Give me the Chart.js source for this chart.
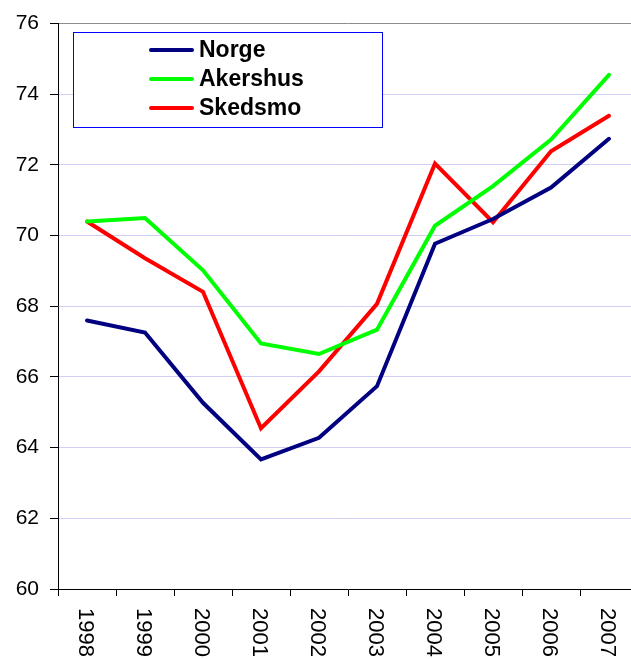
<!DOCTYPE html>
<html>
<head>
<meta charset="utf-8">
<script src="https://cdn.jsdelivr.net/npm/chart.js@4.4.1/dist/chart.umd.min.js"></script>
<style>
html,body{margin:0;padding:0;background:#fff;overflow:hidden;width:631px;height:659px;}
#wrap{position:absolute;left:0;top:0;width:640px;height:680px;}
</style>
</head>
<body>
<div id="wrap"><canvas id="c" width="640" height="680"></canvas></div>
<script>
const years = ["1998","1999","2000","2001","2002","2003","2004","2005","2006","2007"];
const norge = [67.6, 67.26, 65.27, 63.67, 64.28, 65.74, 69.77, 70.47, 71.36, 72.74];
const akershus = [70.4, 70.5, 69.02, 66.95, 66.65, 67.34, 70.28, 71.4, 72.72, 74.55];
const skedsmo = [70.4, 69.36, 68.41, 64.55, 66.16, 68.07, 72.04, 70.38, 72.39, 73.39];
const seriesNames = ["Norge", "Akershus", "Skedsmo"];
const seriesColors = ["#000080", "#00ff00", "#ff0000"];
const yTicks = [60, 62, 64, 66, 68, 70, 72, 74, 76];

const FONT = "'Liberation Sans', Arial, sans-serif";

const xLabelPlugin = {
  id: 'xLabels',
  afterDraw(chart) {
    const ctx = chart.ctx;
    const xs = chart.scales.x;
    const bottom = chart.chartArea.bottom;
    ctx.save();
    ctx.fillStyle = '#000';
    ctx.font = '22px ' + FONT;
    ctx.textAlign = 'left';
    ctx.textBaseline = 'middle';
    years.forEach((y, i) => {
      const px = xs.getPixelForValue(i);
      ctx.save();
      ctx.translate(px - 2, bottom + 19);
      ctx.rotate(Math.PI / 2);
      ctx.fillText(y, 0, 0);
      ctx.restore();
    });
    ctx.restore();
  }
};

const legendPlugin = {
  id: 'boxLegend',
  afterDatasetsDraw(chart) {
    const ctx = chart.ctx;
    ctx.save();
    ctx.fillStyle = '#fff';
    ctx.fillRect(73, 32, 309, 95);
    ctx.strokeStyle = '#0000ff';
    ctx.lineWidth = 1;
    ctx.strokeRect(73.5, 32.5, 309, 95);
    ctx.font = 'bold 23px ' + FONT;
    ctx.textAlign = 'left';
    ctx.textBaseline = 'middle';
    const rows = [50, 79, 108];
    seriesNames.forEach((n, i) => {
      ctx.strokeStyle = seriesColors[i];
      ctx.lineWidth = 4;
      ctx.lineCap = 'round';
      ctx.beginPath();
      ctx.moveTo(151, rows[i]);
      ctx.lineTo(192, rows[i]);
      ctx.stroke();
      ctx.fillStyle = '#000';
      ctx.fillText(n, 199, rows[i] + 1);
    });
    ctx.restore();
  }
};

new Chart(document.getElementById('c'), {
  type: 'line',
  data: {
    labels: years,
    datasets: [
      { label: seriesNames[0], data: norge, borderColor: seriesColors[0] },
      { label: seriesNames[1], data: akershus, borderColor: seriesColors[1] },
      { label: seriesNames[2], data: skedsmo, borderColor: seriesColors[2] }
    ].map(d => Object.assign(d, {
      borderWidth: 4, pointRadius: 0, tension: 0, fill: false,
      borderCapStyle: 'round', borderJoinStyle: 'miter'
    }))
  },
  options: {
    responsive: false,
    animation: false,
    devicePixelRatio: 1,
    layout: { padding: { top: 20, right: 2, left: 0, bottom: 0 } },
    plugins: { legend: { display: false }, tooltip: { enabled: false } },
    scales: {
      x: {
        type: 'category',
        offset: true,
        grid: { display: true, offset: true, drawOnChartArea: false, drawTicks: true, tickLength: 7, tickColor: '#000', color: '#000' },
        border: { display: true, color: '#000', width: 1 },
        ticks: { display: false },
        afterFit(scale) { scale.height = 91; }
      },
      y: {
        min: 60, max: 76,
        afterBuildTicks(scale) { scale.ticks = yTicks.map(v => ({ value: v })); },
        grid: {
          color: ctx => (ctx.tick && ctx.tick.value === 76) ? '#8c8c8c' : '#d0d0f4',
          lineWidth: 1,
          drawTicks: true, tickLength: 8, tickColor: '#000'
        },
        border: { display: true, color: '#000', width: 1 },
        ticks: { color: '#000', font: { family: FONT, size: 21 }, padding: 11 },
        afterFit(scale) { scale.width = 58; }
      }
    }
  },
  plugins: [legendPlugin, xLabelPlugin]
});
</script>
</body>
</html>
